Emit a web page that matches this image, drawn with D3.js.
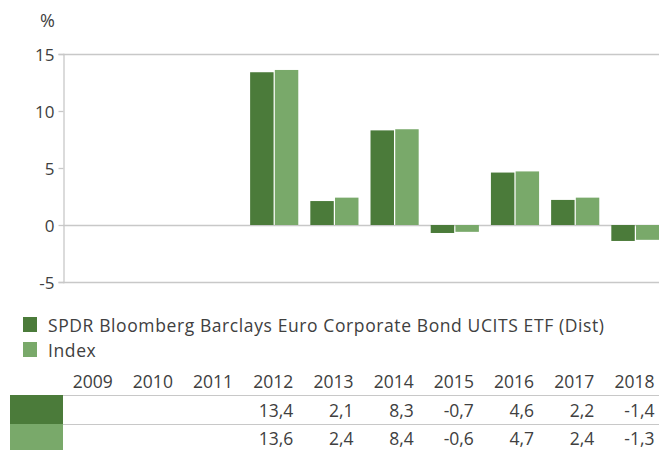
<!DOCTYPE html>
<html>
<head>
<meta charset="utf-8">
<script src="https://cdn.jsdelivr.net/npm/d3@7"></script>
<style>
  body { margin: 0; background: #fff; }
  svg text { font-family: "Open Sans", sans-serif; fill: #404040; }
</style>
</head>
<body>
<svg id="chart"></svg>
<script>
const years = ["2009", "2010", "2011", "2012", "2013", "2014", "2015", "2016", "2017", "2018"];
const fundValues = [null, null, null, 13.4, 2.1, 8.3, -0.7, 4.6, 2.2, -1.4];
const indexValues = [null, null, null, 13.6, 2.4, 8.4, -0.6, 4.7, 2.4, -1.3];
const seriesNames = ["SPDR Bloomberg Barclays Euro Corporate Bond UCITS ETF (Dist)", "Index"];
const seriesColors = ["#4b7b3a", "#79a96a"];
const yTicks = [-5, 0, 5, 10, 15];

const width = 659;
const height = 450;

const svg = d3.select("#chart")
              .attr("width", width)
              .attr("height", height);

const x0 = d3.scaleBand()
             .domain(years)
             .range([63.5, 665.5])
             .paddingInner(0.2)
             .paddingOuter(0.1);

const x1 = d3.scaleBand()
             .domain([0, 1])
             .range([0, x0.bandwidth()])
             .paddingInner(0.05);

const y = d3.scaleLinear()
            .domain([-5, 15])
            .range([282, 54]);

// gridlines at top, zero and bottom only
svg.append("g")
   .selectAll("line")
   .data([-5, 0, 15])
   .enter()
   .append("line")
   .attr("x1", 63)
   .attr("x2", width)
   .attr("y1", d => Math.round(y(d)) + 0.5)
   .attr("y2", d => Math.round(y(d)) + 0.5)
   .style("stroke", "#c8c8c8")
   .style("stroke-width", 1.3);

const yAxis = d3.axisLeft(y)
                .tickValues(yTicks)
                .tickFormat(d => String(d))
                .tickSize(5)
                .tickPadding(4);

const yG = svg.append("g")
              .attr("transform", "translate(63.5,0)")
              .call(yAxis);
yG.select(".domain").style("stroke", "#c8c8c8").style("stroke-width", 1.3);
yG.selectAll(".tick line").style("stroke", "#c8c8c8").style("stroke-width", 1.3);
yG.selectAll(".tick text")
  .style("font-size", "17px")
  .style("font-family", "'Open Sans', sans-serif")
  .style("fill", "#404040")
  .attr("dy", "0.36em");

svg.append("text")
   .attr("x", 47.5)
   .attr("y", 27)
   .attr("text-anchor", "middle")
   .style("font-size", "18px")
   .text("%");

// bars
const series = [fundValues, indexValues];
const groups = svg.append("g")
                  .selectAll("g")
                  .data(years)
                  .enter()
                  .append("g")
                  .attr("transform", d => "translate(" + x0(d) + ",0)");

groups.selectAll("rect")
      .data((d, i) => series.map((s, k) => ({k: k, v: s[i]})).filter(e => e.v !== null))
      .enter()
      .append("rect")
      .attr("x", d => x1(d.k))
      .attr("width", x1.bandwidth())
      .attr("y", d => y(Math.max(0, d.v)))
      .attr("height", d => Math.abs(y(d.v) - y(0)))
      .style("fill", d => seriesColors[d.k]);

// legend
const legend = svg.append("g")
                  .selectAll("g")
                  .data(seriesNames)
                  .enter()
                  .append("g")
                  .attr("transform", (d, i) => "translate(23," + (317 + i * 25) + ")");

legend.append("rect")
      .attr("width", 14)
      .attr("height", 15)
      .style("fill", (d, i) => seriesColors[i]);

legend.append("text")
      .attr("x", 25)
      .attr("y", 15)
      .style("font-size", "17.5px")
      .style("letter-spacing", "0.6px")
      .text(d => d);

// data table
const fmt = v => v === null ? "" : String(v).replace(".", ",");
const colRight = d => x0(d) + x0.bandwidth() + x0.step() * x0.paddingInner() / 2 - 11;

svg.append("g")
   .selectAll("text")
   .data(years)
   .enter()
   .append("text")
   .attr("x", colRight)
   .attr("y", 388)
   .attr("text-anchor", "end")
   .style("font-size", "17.5px")
   .text(d => d);

svg.append("g")
   .selectAll("line")
   .data([395, 424])
   .enter()
   .append("line")
   .attr("x1", 63)
   .attr("x2", width)
   .attr("y1", d => d + 0.5)
   .attr("y2", d => d + 0.5)
   .style("stroke", "#c8c8c8")
   .style("stroke-width", 1.2);

const rowTops = [395, 424];
const rowBottoms = [424, 450];

series.forEach((s, k) => {
  svg.append("rect")
     .attr("x", 10)
     .attr("y", rowTops[k])
     .attr("width", 53)
     .attr("height", rowBottoms[k] - rowTops[k])
     .style("fill", seriesColors[k]);

  svg.append("g")
     .selectAll("text")
     .data(years)
     .enter()
     .append("text")
     .attr("x", colRight)
     .attr("y", 417 + k * 28)
     .attr("text-anchor", "end")
     .style("font-size", "17.5px")
     .text((d, i) => fmt(s[i]));
});
</script>
</body>
</html>
